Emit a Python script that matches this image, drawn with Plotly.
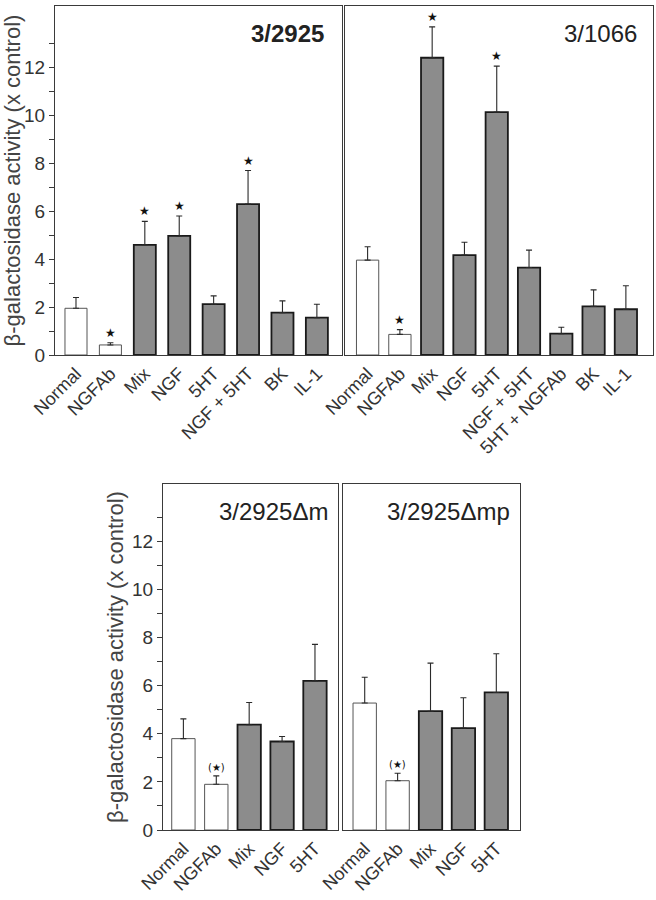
import plotly.graph_objects as go

# ---------------- data ----------------
tl_cats = ["Normal", "NGFAb", "Mix", "NGF", "5HT", "NGF + 5HT", "BK", "IL-1"]
tl_vals = [1.95, 0.42, 4.60, 4.97, 2.12, 6.30, 1.77, 1.56]
tl_tops = [2.40, 0.51, 5.58, 5.80, 2.47, 7.70, 2.26, 2.12]
tl_star = ["", "★", "★", "★", "", "★", "", ""]

tr_cats = ["Normal", "NGFAb", "Mix", "NGF", "5HT", "NGF + 5HT", "5HT + NGFAb", "BK", "IL-1"]
tr_vals = [3.96, 0.86, 12.41, 4.17, 10.14, 3.65, 0.89, 2.03, 1.91]
tr_tops = [4.52, 1.06, 13.70, 4.71, 12.06, 4.38, 1.16, 2.72, 2.89]
tr_star = ["", "★", "★", "", "★", "", "", "", ""]

bl_cats = ["Normal", "NGFAb", "Mix", "NGF", "5HT"]
bl_vals = [3.80, 1.90, 4.38, 3.68, 6.20]
bl_tops = [4.62, 2.25, 5.30, 3.89, 7.72]
bl_star = ["", "(★)", "", "", ""]

br_cats = ["Normal", "NGFAb", "Mix", "NGF", "5HT"]
br_vals = [5.28, 2.05, 4.94, 4.24, 5.72]
br_tops = [6.35, 2.36, 6.94, 5.50, 7.33]
br_star = ["", "(★)", "", "", ""]

panel_titles = ["3/2925", "3/1066", "3/2925Δm", "3/2925Δmp"]
y_title = "β-galactosidase activity (x control)"
y_ticks = [0, 2, 4, 6, 8, 10, 12]
y_minor = [1, 3, 5, 7, 9, 11, 13]

# ---------------- layout geometry (pixels) ----------------
W, H = 656, 900
FONT = "Liberation Sans, Arial, Helvetica, sans-serif"
FRAME = "#3a3a3a"
GRAY = "#8c8c8c"
TXT = "#333333"

def fx(px):
    return px / W

def fy(py):
    return 1 - py / H

panels = [
    dict(cats=tl_cats, vals=tl_vals, tops=tl_tops, star=tl_star, title=panel_titles[0],
         xd=[fx(55), fx(342)], yd=[fy(355), fy(6)], xr=[-0.61, 7.73], yr=[0, 14.57],
         width=0.64, nwhite=2, ylab=True, bold=True),
    dict(cats=tr_cats, vals=tr_vals, tops=tr_tops, star=tr_star, title=panel_titles[1],
         xd=[fx(345), fx(653)], yd=[fy(355), fy(6)], xr=[-0.70, 8.84], yr=[0, 14.57],
         width=0.69, nwhite=2, ylab=False, bold=False),
    dict(cats=bl_cats, vals=bl_vals, tops=bl_tops, star=bl_star, title=panel_titles[2],
         xd=[fx(163), fx(338)], yd=[fy(830), fy(484)], xr=[-0.62, 4.70], yr=[0, 14.39],
         width=0.71, nwhite=2, ylab=True, bold=False),
    dict(cats=br_cats, vals=br_vals, tops=br_tops, star=br_star, title=panel_titles[3],
         xd=[fx(343), fx(520)], yd=[fy(830), fy(484)], xr=[-0.66, 4.72], yr=[0, 14.39],
         width=0.71, nwhite=2, ylab=False, bold=False),
]

fig = go.Figure()
annotations = []
layout = {}

for i, p in enumerate(panels):
    n = i + 1
    xa = "x" if n == 1 else f"x{n}"
    ya = "y" if n == 1 else f"y{n}"
    xkey = "xaxis" if n == 1 else f"xaxis{n}"
    ykey = "yaxis" if n == 1 else f"yaxis{n}"
    cats = p["cats"]
    idx = list(range(len(cats)))
    fills = ["white"] * p["nwhite"] + [GRAY] * (len(cats) - p["nwhite"])
    lcols = ["#555555"] * p["nwhite"] + ["#1a1a1a"] * (len(cats) - p["nwhite"])
    lw = [1.0] * p["nwhite"] + [1.8] * (len(cats) - p["nwhite"])
    errs = [t - v for t, v in zip(p["tops"], p["vals"])]
    fig.add_trace(go.Bar(
        x=idx, y=p["vals"], xaxis=xa, yaxis=ya, width=p["width"],
        marker=dict(color=fills, line=dict(color=lcols, width=lw)),
        error_y=dict(type="data", array=errs, arrayminus=[0] * len(errs), symmetric=False,
                     color="#2a2a2a", thickness=1.1, width=3),
        showlegend=False, hoverinfo="skip",
    ))
    layout[xkey] = dict(
        domain=p["xd"], range=p["xr"], anchor=ya, automargin=False,
        tickmode="array", tickvals=idx, ticktext=cats, tickangle=-45,
        ticks="", showline=True, mirror=True, linecolor=FRAME, linewidth=1.2,
        showgrid=False, zeroline=False, fixedrange=True,
        tickfont=dict(family=FONT, size=18, color=TXT),
    )
    yax = dict(
        domain=p["yd"], range=p["yr"], anchor=xa, automargin=False,
        showline=True, mirror=True, linecolor=FRAME, linewidth=1.2,
        showgrid=False, zeroline=False, fixedrange=True,
    )
    if p["ylab"]:
        yax.update(
            tickmode="array", tickvals=y_ticks, ticks="outside", ticklen=5,
            tickcolor=FRAME, tickwidth=1,
            tickfont=dict(family=FONT, size=19, color=TXT),
            minor=dict(tickvals=y_minor, ticks="outside", ticklen=5, tickcolor=FRAME, tickwidth=1),
            title=dict(text=y_title, font=dict(family=FONT, size=22, color="#444444"), standoff=2),
        )
    else:
        yax.update(showticklabels=False, ticks="")
    layout[ykey] = yax

    for j, s in enumerate(p["star"]):
        if s:
            annotations.append(dict(
                x=j, y=p["tops"][j], xref=xa, yref=ya, text=s, showarrow=False,
                yanchor="bottom", yshift=1,
                font=dict(family="DejaVu Sans", size=12 if s == "★" else 10, color="#111111"),
            ))
    title_txt = f"<b>{p['title']}</b>" if p["bold"] else p["title"]
    annotations.append(dict(
        x=0.955 if n != 1 else 0.945, y=0.965, xref=f"{xa} domain", yref=f"{ya} domain",
        text=title_txt, showarrow=False, xanchor="right", yanchor="top",
        font=dict(family=FONT, size=24, color="#222222"),
    ))

fig.update_layout(
    width=W, height=H, margin=dict(l=0, r=0, t=0, b=0, autoexpand=False),
    paper_bgcolor="white", plot_bgcolor="white",
    bargap=0.3, annotations=annotations, **layout,
)

fig.write_html(
    "out.html",
    config={"displayModeBar": False},
    post_script="document.body.style.margin='0px';document.body.style.overflow='hidden';",
)
